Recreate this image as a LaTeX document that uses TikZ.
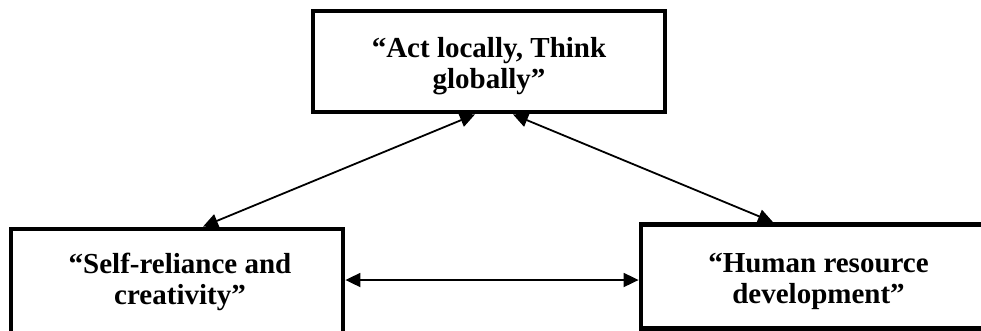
\documentclass[tikz,border=0pt]{standalone}
\usepackage{fontspec}
\setmainfont{Liberation Serif}
\usetikzlibrary{arrows.meta,calc}
\tikzset{
  boxframe/.style={draw, line width=4.8pt, minimum width=#1, inner sep=0pt},
  boxtext/.style={font=\fontsize{29}{31}\selectfont\bfseries, align=center, inner sep=0pt},
  link/.style={line width=1.8pt, {Triangle[length=15pt,width=14pt]}-{Triangle[length=15pt,width=14pt]}}
}
\begin{document}
\begin{tikzpicture}[x=1pt,y=-1pt]
\useasboundingbox (0,0) rectangle (981,330);
\clip (0,0) rectangle (981,330);
% boxes
\node[boxframe=352pt, minimum height=101pt] (top) at (489,61.5) {};
\node[boxframe=332pt, minimum height=120pt] (left) at (177,289) {};
\node[boxframe=355pt, minimum height=104pt] (right) at (818.5,276.5) {};
% texts
\node[boxtext] (toptext) at (489,66) {“Act locally, Think\\globally”};
\node[boxtext] (lefttext) at (180,282) {“Self-reliance and\\creativity”};
\node[boxtext] (righttext) at (818.5,281) {“Human resource\\development”};
% connectors
\draw[link] ($(top.south)+(-14,0)$) -- ($(left.north)+(26,0)$);
\draw[link] ($(top.south)+(24,0)$) -- ($(right.north)+(-45.5,0)$);
\draw[link] ($(left.east)+(0,-9)$) -- ($(right.west)+(0,3.5)$);
\end{tikzpicture}
\end{document}
